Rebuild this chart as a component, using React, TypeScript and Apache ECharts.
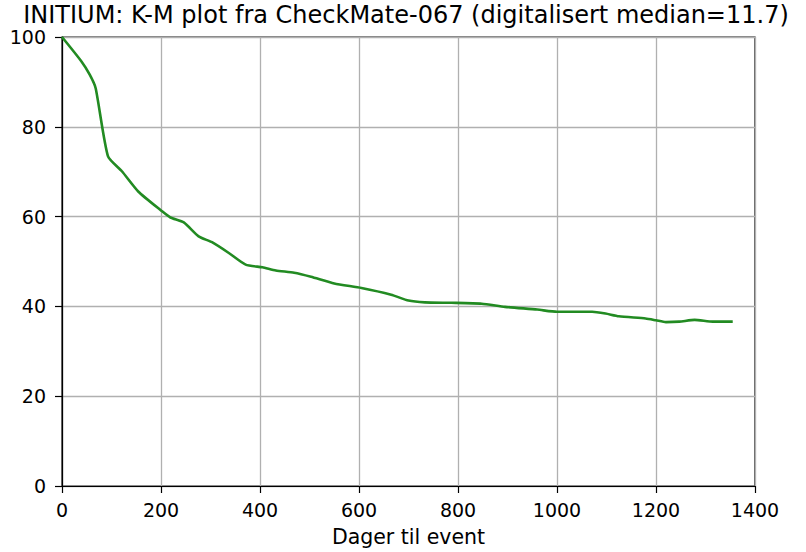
import React, { useEffect, useRef } from "react";
import * as echarts from "echarts";

const titleText = "INITIUM: K-M plot fra CheckMate-067 (digitalisert median=11.7)";
const xAxisName = "Dager til event";
const days = [0, 39, 56, 68, 93, 121, 154, 202, 219, 246, 276, 303, 337, 371, 405, 432, 469, 503, 550, 605, 665, 700, 733, 787, 848, 895, 960, 1000, 1071, 1098, 1125, 1179, 1200, 1220, 1247, 1278, 1315, 1355];
const survival = [100, 94.6, 91.6, 88.6, 73.4, 70.1, 65.6, 61.2, 59.8, 58.7, 55.6, 54.3, 51.9, 49.3, 48.7, 48.0, 47.5, 46.6, 45.1, 44.1, 42.6, 41.3, 40.9, 40.8, 40.6, 39.9, 39.3, 38.8, 38.8, 38.4, 37.8, 37.3, 36.9, 36.5, 36.6, 37.0, 36.6, 36.6];
const xTicks = { min: 0, max: 1400, interval: 200 };
const yTicks = { min: 0, max: 100, interval: 20 };

export default function App() {
  const ref = useRef<HTMLDivElement>(null);
  useEffect(() => {
    if (!ref.current) return;
    const chart = echarts.init(ref.current, undefined, { renderer: "svg" });
    const font = "DejaVu Sans";
    chart.setOption({
      animation: false,
      backgroundColor: "#ffffff",
      title: {
        text: titleText,
        left: 406,
        textAlign: "center",
        top: 3,
        padding: 0,
        textStyle: { fontFamily: font, fontSize: 24, lineHeight: 24, fontWeight: "normal", color: "#000" },
      },
      grid: {
        left: 62,
        right: 51,
        top: 37,
        bottom: 62,
        show: true,
        borderColor: "#000",
        borderWidth: 1.2,
        backgroundColor: "transparent",
      },
      xAxis: {
        type: "value",
        min: xTicks.min,
        max: xTicks.max,
        interval: xTicks.interval,
        name: xAxisName,
        nameLocation: "middle",
        nameGap: 40,
        nameTextStyle: { fontFamily: font, fontSize: 20.5, color: "#000" },
        axisLine: { show: true, onZero: false, lineStyle: { color: "#000", width: 1.2 } },
        axisTick: { show: true, length: 7, lineStyle: { color: "#000", width: 1.2 } },
        axisLabel: { fontFamily: font, fontSize: 19, color: "#000", margin: 14, formatter: (v: number) => String(v) },
        splitLine: { show: true, lineStyle: { color: "#b0b0b0", width: 1.3 } },
      },
      yAxis: {
        type: "value",
        min: yTicks.min,
        max: yTicks.max,
        interval: yTicks.interval,
        axisLine: { show: true, lineStyle: { color: "#000", width: 1.2 } },
        axisTick: { show: true, length: 7, lineStyle: { color: "#000", width: 1.2 } },
        axisLabel: { fontFamily: font, fontSize: 19, lineHeight: 19, color: "#000", margin: 16, formatter: (v: number) => String(v) },
        splitLine: { show: true, lineStyle: { color: "#b0b0b0", width: 1.3 } },
      },
      series: [
        {
          type: "line",
          data: days.map((d, i) => [d, survival[i]]),
          showSymbol: false,
          symbol: "none",
          smooth: 0.2,
          lineStyle: { color: "#228b22", width: 2.6 },
          itemStyle: { color: "#228b22" },
        },
      ],
    });
    return () => chart.dispose();
  }, []);
  return <div ref={ref} style={{ width: 806, height: 552, position: "absolute", left: 0, top: 0 }} />;
}
